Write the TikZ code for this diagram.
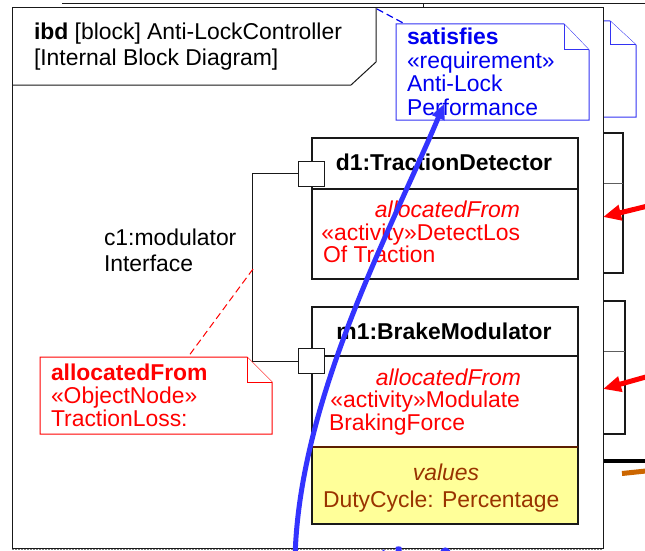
\documentclass[tikz,border=0pt]{standalone}
\usepackage{fontspec}
\setmainfont{Liberation Sans}
\usetikzlibrary{arrows.meta}
\definecolor{sysblue}{RGB}{0,0,240}
\definecolor{curveblue}{RGB}{51,51,255}
\definecolor{notered}{RGB}{255,0,0}
\definecolor{valbrown}{RGB}{153,51,0}
\definecolor{valfill}{RGB}{255,255,153}
\definecolor{orangeline}{RGB}{204,102,0}
\definecolor{frameblack}{RGB}{25,25,25}
\begin{document}
\begin{tikzpicture}[x=1pt,y=-1pt,
  txt/.style={font=\fontsize{22.9}{23}\selectfont, inner sep=0pt, outer sep=0pt},
  bluetxt/.style={txt, text=sysblue},
  redtxt/.style={txt, text=notered},
  browntxt/.style={txt, text=valbrown},
  blockbox/.style={draw=frameblack, line width=1.4pt, inner sep=0pt, outer sep=0pt, anchor=north west},
  portbox/.style={draw=frameblack, fill=white, line width=1pt, minimum width=26pt, minimum height=25pt, inner sep=0pt},
  conn/.style={draw=frameblack, line width=0.9pt},
  reddash/.style={draw=notered, line width=1pt, dash pattern=on 7pt off 4pt},
  bluedash/.style={draw=sysblue, line width=1.2pt, dash pattern=on 7pt off 4pt},
  noteblue/.style={draw=sysblue!80!white, line width=1pt, fill=white},
  notered/.style={draw=notered, line width=1pt, fill=white},
  bgline/.style={draw=frameblack, line width=1pt},
]
\useasboundingbox (0,0) rectangle (645,551);
\clip (0,0) rectangle (645,551);
\fill[white] (0,0) rectangle (645,551);

% ---- elements behind the frame ----
\draw[bgline] (62,4) -- (660,4);
\draw[bgline] (423,4) -- (423,8);
\draw[noteblue] (590,21) -- (610,21) -- (636,45) -- (636,117) -- (590,117);
\draw[noteblue] (610,21) |- (636,45);
\node[blockbox, line width=1.2pt, minimum width=33pt, minimum height=140pt] (bk1) at (590,133) {};
\draw[frameblack!70, line width=1pt] (bk1.west |- 0,183) -- (bk1.east |- 0,183);
\node[blockbox, line width=1.2pt, minimum width=35pt, minimum height=133pt] (bk2) at (590,301) {};
\draw[frameblack!70, line width=1pt] (bk2.west |- 0,351) -- (bk2.east |- 0,351);
\draw[black, line width=3.5pt] (603,461) -- (660,461);
\draw[orangeline, line width=5pt] (622,473.5) -- (660,469.5);

% ---- frame ----
\node[draw=frameblack, fill=white, line width=1pt, inner sep=0pt, outer sep=0pt,
      minimum width=591pt, minimum height=540pt, anchor=north west] (frame) at (12,8) {};
\draw[gray, line width=1.2pt, dash pattern=on 1.5pt off 1.5pt] (12,549.5) -- (603,549.5);
\draw[frameblack, line width=1pt] (frame.west |- 0,85) -- (351,85) -- (376,62) -- (376,8);
\node[txt, anchor=base west] (hdr1) at (34,40) {\textbf{ibd} [block] Anti-LockController};
\node[txt, anchor=base west] (hdr2) at (34,66) {[Internal Block Diagram]};
\coordinate (hdrcorner) at (377,9);

% ---- requirement note ----
\draw[noteblue] (396,24) -- (564,24) -- (589,50) -- (589,120) -- (396,120) -- cycle;
\draw[noteblue] (564,24) |- (589,50);
\coordinate (bnTL) at (405,24);
\node[bluetxt, anchor=base west] (bn1) at (407,45) {\textbf{satisfies}};
\node[bluetxt, anchor=base west] (bn2) at (407,68.5) {«requirement»};
\node[bluetxt, anchor=base west] (bn3) at (407,92) {Anti-Lock};
\node[bluetxt, anchor=base west] (bn4) at (407,115) {Performance};
\draw[bluedash] (hdrcorner) -- (bnTL);

% ---- d1 block ----
\node[blockbox, minimum width=266pt, minimum height=141pt] (d1) at (312,138) {};
\draw[frameblack, line width=1.2pt] (d1.west |- 0,189) -- (d1.east |- 0,189);
\node[txt, anchor=base] (d1t) at (444,170) {\textbf{d1:TractionDetector}};
\node[redtxt, anchor=base east] (d1a) at (520,217) {\textit{allocatedFrom}};
\node[redtxt, anchor=base east] (d1b) at (520,240) {«activity»DetectLos};
\node[redtxt, anchor=base west] (d1c) at (323,262.5) {Of Traction};

% ---- m1 block ----
\fill[valfill] (312,447) rectangle (578,524);
\node[blockbox, minimum width=266pt, minimum height=217pt] (m1) at (312,307) {};
\draw[frameblack, line width=1.2pt] (m1.west |- 0,356) -- (m1.east |- 0,356);
\draw[valbrown!60!black, line width=1.2pt] (m1.west |- 0,447) -- (m1.east |- 0,447);
\node[txt, anchor=base] (m1t) at (444,339) {\textbf{m1:BrakeModulator}};
\node[redtxt, anchor=base east] (m1a) at (521,385) {\textit{allocatedFrom}};
\node[redtxt, anchor=base east] (m1b) at (520,407.5) {«activity»Modulate};
\node[redtxt, anchor=base west] (m1c) at (329,430) {BrakingForce};
\node[browntxt, anchor=base] (m1v) at (446,480) {\textit{values}};
\node[browntxt, anchor=base west] (m1d) at (323,507) {DutyCycle: Percentage};

% ---- ports and connector ----
\node[portbox] (p1) at (311,173.5) {};
\node[portbox] (p2) at (311,361) {};
\draw[conn] (p1.west) -- ++(-45,0) |- (p2.west);
\node[txt, anchor=base west] (c1a) at (104,245) {c1:modulator};
\node[txt, anchor=base west] (c1b) at (104,271) {Interface};
\coordinate (cmid) at (253,269);

% ---- allocation note ----
\draw[notered] (40,357) -- (247,357) -- (272,382) -- (272,434) -- (40,434) -- cycle;
\draw[notered] (247,357) |- (272,382);
\coordinate (rnTop) at (188,357);
\node[redtxt, anchor=base west] (rn1) at (51,380) {\textbf{allocatedFrom}};
\node[redtxt, anchor=base west] (rn2) at (51,403) {«ObjectNode»};
\node[redtxt, anchor=base west] (rn3) at (51,426) {TractionLoss:};
\draw[reddash] (cmid) -- (rnTop);

% ---- red allocation arrows at right ----
\coordinate (ra1s) at (660,203);
\coordinate (ra1e) at (603,217);
\coordinate (ra2s) at (660,373);
\coordinate (ra2e) at (603,389);
\draw[notered, line width=5pt, -{Triangle[length=18pt,width=15pt]}] (ra1s) -- (ra1e);
\draw[notered, line width=5pt, -{Triangle[length=18pt,width=15pt]}] (ra2s) -- (ra2e);

% ---- thick blue satisfy curve ----
\coordinate (cbot) at (295,560);
\coordinate (ctop) at (444,104);
\draw[curveblue, line width=5pt, -{Triangle[length=15pt,width=13pt]}]
  (cbot) .. controls (298,400) and (392,228) .. (ctop);
% fragments of cut-off blue marks at the bottom edge
\fill[curveblue] (395.5,553) -- (395.5,547.5) .. controls (396,546) and (401,546) .. (401.5,547.5) -- (401.5,553) -- cycle;
\fill[curveblue] (440,553) .. controls (441,546) and (449,545) .. (451,553) -- cycle;
\fill[curveblue] (383.5,550.5) circle (1.2pt);
\end{tikzpicture}
\end{document}
